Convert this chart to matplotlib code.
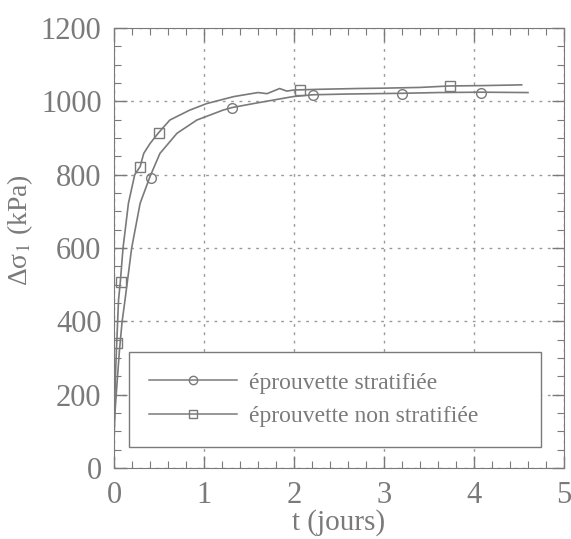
import matplotlib
matplotlib.use('Agg')
from matplotlib import pyplot as plt
from matplotlib.ticker import MultipleLocator

# eprouvette non stratifiee (courbe haute, carres)
t_non = [0.0, 0.01, 0.02, 0.03, 0.05, 0.07, 0.10, 0.16, 0.23, 0.29, 0.33, 0.40, 0.49,
         0.62, 0.84, 1.03, 1.33, 1.50, 1.60, 1.70, 1.84, 1.92, 2.0, 2.3, 2.7, 3.0,
         3.4, 3.73, 4.1, 4.53]
s_non = [100, 200, 280, 340, 458, 508, 600, 722, 800, 822, 858, 885, 913,
         949, 976, 994, 1013, 1020, 1024, 1021, 1035, 1028, 1031, 1033, 1035, 1036,
         1038, 1042, 1043, 1045]

# eprouvette stratifiee (courbe basse, cercles)
t_str = [0.0, 0.01, 0.03, 0.06, 0.09, 0.122, 0.196, 0.29, 0.40, 0.51, 0.70, 0.92,
         1.21, 1.31, 1.55, 1.99, 2.21, 2.6, 3.2, 3.6, 4.08, 4.6]
s_str = [80, 150, 220, 320, 400, 458, 600, 722, 795, 858, 913, 949,
         976, 983, 994, 1013, 1018, 1020, 1022, 1024, 1025, 1024]

# points de mesure (marqueurs)
t_circ = [0.41, 1.31, 2.21, 3.2, 4.08]
s_circ = [792, 981, 1017, 1021, 1024]
t_sq = [0.03, 0.075, 0.29, 0.5, 2.07, 3.73]
s_sq = [340, 508, 822, 913, 1030, 1042]

gris = '#7a7a7a'
plt.rcParams['font.family'] = ['Liberation Serif', 'DejaVu Serif']
plt.rcParams['mathtext.fontset'] = 'stix'

fig = plt.figure(figsize=(5.71, 5.39), dpi=100)
ax = fig.add_axes([0.1997, 0.1317, 0.788, 0.8163])

ax.plot(t_str, s_str, c=gris, lw=1.2)
ax.plot(t_non, s_non, c=gris, lw=1.2)
ax.plot(t_circ, s_circ, 'o', mfc='none', mec=gris, ms=7, mew=1)
ax.plot(t_sq, s_sq, 's', mfc='none', mec=gris, ms=7, mew=1)
# entrees de legende
ax.plot([], [], c=gris, lw=1.1, marker='o', mfc='none', mec=gris, ms=6, label='éprouvette stratifiée')
ax.plot([], [], c=gris, lw=1.1, marker='s', mfc='none', mec=gris, ms=6, label='éprouvette non stratifiée')

ax.set_xlim(0, 5)
ax.set_ylim(0, 1200)
ax.xaxis.set_major_locator(MultipleLocator(1))
ax.xaxis.set_minor_locator(MultipleLocator(0.2))
ax.yaxis.set_major_locator(MultipleLocator(200))
ax.yaxis.set_minor_locator(MultipleLocator(50))
ax.tick_params(which='both', direction='in', top=True, right=True, colors=gris,
               labelcolor=gris, labelsize=22)
ax.tick_params(which='major', length=9, width=1, pad=9)
ax.tick_params(which='minor', length=5, width=0.8)
for sp in ax.spines.values():
    sp.set_color(gris)
ax.grid(True, which='major', ls=(0, (2, 4)), c='#9a9a9a', lw=1)

ax.set_xlabel('t (jours)', fontsize=21, color=gris, labelpad=0)
ax.set_ylabel('Δσ$_1$ (kPa)', fontsize=20, color=gris, labelpad=0)
ax.yaxis.set_label_coords(-0.175, 0.54)

leg = ax.legend(loc='lower left', bbox_to_anchor=(0.034, 0.0475, 0.914, 0.22), mode='expand',
                borderaxespad=0, fontsize=17, handlelength=3.7, handletextpad=0.5,
                fancybox=False, framealpha=1, edgecolor=gris, borderpad=0.85, labelspacing=0.5)
for tx in leg.get_texts():
    tx.set_color(gris)
leg.get_frame().set_linewidth(1)

plt.savefig('out.png', dpi=100)
